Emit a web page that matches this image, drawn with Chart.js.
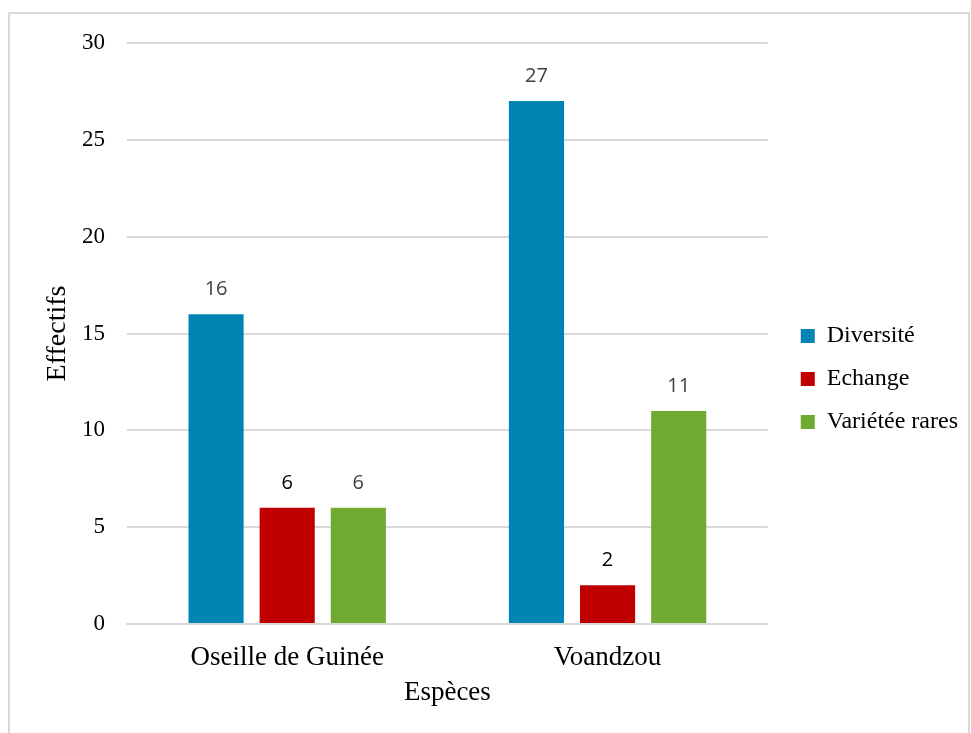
<!DOCTYPE html>
<html>
<head>
<meta charset="utf-8">
<script src="https://cdn.jsdelivr.net/npm/chart.js@4.4.1/dist/chart.umd.min.js"></script>
<style>
    body { margin: 0; background: #fff; }
    #frame { position: absolute; left: 8px; top: 12px; width: 958px; height: 730px; border: 2px solid #d9d9d9; }
    canvas { position: absolute; left: 0; top: 0; }
</style>
</head>
<body>
<div id="frame"></div>
<canvas id="Effectifs-Chart" width="971" height="733"></canvas>
<script>
// data
const categories = ['Oseille de Guinée', 'Voandzou'];
const diversite = [16, 27];
const echange = [6, 2];
const varieteesRares = [6, 11];
const yTicks = [0, 5, 10, 15, 20, 25, 30];

const serif = "'Liberation Serif', 'Times New Roman', serif";

// draws the value above each bar
const valueLabels = {
    id: 'valueLabels',
    afterDatasetsDraw(chart) {
        const ctx = chart.ctx;
        ctx.save();
        ctx.font = "20px 'Open Sans', 'Liberation Sans', sans-serif";
        ctx.textAlign = 'center';
        ctx.textBaseline = 'middle';
        chart.data.datasets.forEach((ds, i) => {
            chart.getDatasetMeta(i).data.forEach((bar, j) => {
                ctx.fillStyle = ds.labelColor;
                ctx.fillText(ds.data[j], bar.x, bar.y - 25);
            });
        });
        ctx.restore();
    }
};

// nudge the legend a bit further from the plot
const legendShift = {
    id: 'legendShift',
    afterLayout(chart) {
        chart.legend.left += 14;
        chart.legend.right += 14;
        chart.legend.top += 3;
        chart.legend.bottom += 3;
    }
};

window.onload = function () {
    var ctx = document.getElementById('Effectifs-Chart').getContext('2d');

    var chart = new Chart(ctx, {
        type: 'bar',
        data: {
            labels: categories,
            datasets: [
                {
                    label: 'Diversité',
                    data: diversite,
                    backgroundColor: '#0084b4',
                    labelColor: '#404040'
                },
                {
                    label: 'Echange',
                    data: echange,
                    backgroundColor: '#c00000',
                    labelColor: '#000000'
                },
                {
                    label: 'Variétée rares',
                    data: varieteesRares,
                    backgroundColor: '#70aa31',
                    labelColor: '#404040'
                }
            ]
        },
        options: {
            responsive: false,
            animation: false,
            barPercentage: 0.775,
            categoryPercentage: 0.666,
            layout: {
                padding: { left: 20, top: 43, right: 17, bottom: 24 }
            },
            plugins: {
                tooltip: { enabled: false },
                legend: {
                    position: 'right',
                    labels: {
                        boxWidth: 14,
                        boxHeight: 14,
                        padding: 19,
                        color: '#000',
                        font: { family: serif, size: 24 }
                    }
                }
            },
            scales: {
                x: {
                    afterFit(axis) { axis.height = 85; },
                    grid: { display: false },
                    border: { display: true, color: '#d9d9d9', width: 2 },
                    ticks: { color: '#000', padding: 10, font: { family: serif, size: 27 } },
                    title: {
                        display: true,
                        text: 'Espèces',
                        color: '#000',
                        padding: 0,
                        font: { family: serif, size: 27 }
                    }
                },
                y: {
                    min: 0,
                    max: 30,
                    afterBuildTicks(axis) {
                        axis.ticks = yTicks.map(v => ({ value: v }));
                    },
                    afterFit(axis) { axis.width = 107; },
                    grid: { color: '#d9d9d9', lineWidth: 2, drawTicks: false },
                    border: { display: false },
                    ticks: { color: '#000', padding: 22, font: { family: serif, size: 23 } },
                    title: {
                        display: true,
                        text: 'Effectifs',
                        color: '#000',
                        padding: { top: 21, bottom: 0 },
                        font: { family: serif, size: 28 }
                    }
                }
            }
        },
        plugins: [valueLabels, legendShift]
    });
};
</script>
</body>
</html>
